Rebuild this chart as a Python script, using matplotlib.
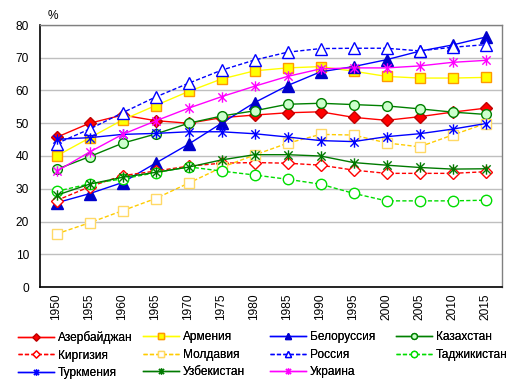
import matplotlib
matplotlib.use("Agg")
import matplotlib.pyplot as plt
from matplotlib.path import Path
from matplotlib.lines import Line2D

plt.rcParams['font.family'] = ['Liberation Sans', 'DejaVu Sans']

years = ['1950', '1955', '1960', '1965', '1970', '1975', '1980',
         '1985', '1990', '1995', '2000', '2005', '2010', '2015']

azerbaijan = [45.7, 50.0, 52.5, 50.8, 50.0, 51.7, 52.5, 53.2, 53.5, 51.8, 50.9, 52.0, 53.4, 54.6]
armenia    = [40.0, 45.5, 51.0, 55.4, 59.7, 63.5, 66.0, 66.9, 67.3, 65.9, 64.3, 63.8, 63.8, 64.0]
belarus    = [25.7, 28.5, 31.9, 37.8, 43.6, 50.0, 56.3, 61.5, 65.7, 67.3, 69.4, 72.0, 73.9, 76.3]
kazakhstan = [35.9, 39.8, 43.9, 46.7, 50.0, 52.2, 53.8, 55.8, 56.1, 55.7, 55.3, 54.4, 53.4, 52.7]
kirgizia   = [26.4, 30.6, 34.0, 35.4, 36.9, 37.8, 38.0, 37.8, 37.2, 35.7, 34.7, 34.7, 34.7, 35.2]
moldova    = [16.2, 19.6, 23.3, 27.0, 31.7, 36.5, 40.3, 43.9, 46.6, 46.4, 44.0, 42.8, 46.4, 49.9]
russia     = [43.8, 48.2, 53.2, 58.0, 62.2, 66.2, 69.3, 71.7, 72.8, 72.9, 72.9, 72.1, 73.2, 74.0]
tajikistan = [29.2, 31.5, 33.0, 34.9, 36.7, 35.4, 34.2, 32.9, 31.4, 28.6, 26.3, 26.3, 26.3, 26.5]
turkmenia  = [45.1, 45.6, 46.6, 46.9, 47.4, 47.4, 46.8, 45.8, 44.7, 44.4, 45.9, 46.8, 48.2, 49.9]
uzbekistan = [28.0, 31.4, 33.5, 35.0, 36.6, 38.8, 40.4, 40.4, 40.0, 38.0, 37.2, 36.5, 36.0, 36.1]
ukraine    = [35.3, 41.2, 46.6, 50.7, 54.6, 58.1, 61.3, 64.3, 66.6, 66.9, 66.9, 67.5, 68.6, 69.2]

yticks = [0, 10, 20, 30, 40, 50, 60, 70, 80]

star = Path([(0, -1), (0, 1), (-0.8, -0.8), (0.8, 0.8), (-0.8, 0.8), (0.8, -0.8)],
            [Path.MOVETO, Path.LINETO, Path.MOVETO, Path.LINETO, Path.MOVETO, Path.LINETO])

dash = (0, (3, 1.6))
series = [
    ('Азербайджан', azerbaijan, dict(color='#FF0000', ls='-', marker='D', ms=6, mfc='#FF0000', mec='#C00000')),
    ('Армения', armenia, dict(color='#FFFF00', ls='-', marker='s', ms=7.5, mfc='#FFFF00', mec='#FF9900')),
    ('Белоруссия', belarus, dict(color='#0000FF', ls='-', marker='^', ms=8, mfc='#0000CC', mec='#0000CC')),
    ('Казахстан', kazakhstan, dict(color='#008000', ls='-', marker='o', ms=7, mfc='#CCFFCC', mec='#008000')),
    ('Киргизия', kirgizia, dict(color='#FF0000', ls=dash, marker='D', ms=6, mfc='white', mec='#FF0000')),
    ('Молдавия', moldova, dict(color='#FFCC00', ls=dash, marker='s', ms=7, mfc='white', mec='#FFD966')),
    ('Россия', russia, dict(color='#0000FF', ls=dash, marker='^', ms=8, mfc='white', mec='#0000FF')),
    ('Таджикистан', tajikistan, dict(color='#00DD00', ls=dash, marker='o', ms=7.5, mfc='white', mec='#00DD00')),
    ('Туркмения', turkmenia, dict(color='#0000FF', ls='-', marker=star, ms=7.5, mfc='none', mec='#0000FF')),
    ('Узбекистан', uzbekistan, dict(color='#007A00', ls='-', marker=star, ms=7.5, mfc='none', mec='#007A00')),
    ('Украина', ukraine, dict(color='#FF00FF', ls='-', marker=star, ms=7.5, mfc='none', mec='#FF00FF')),
]

W, H = 518, 388
fig = plt.figure(figsize=(W / 100, H / 100), dpi=100)
ax = fig.add_axes([40 / W, 1 - 287 / H, 462 / W, 262 / H])

x = list(range(len(years)))
handles = {}
for name, vals, st in series:
    ln, = ax.plot(x, vals, lw=1.0, mew=1.0, label=name, **st)
    handles[name] = ln

ax.set_xlim(-0.5, len(years) - 0.5)
ax.set_ylim(0, 80)
ax.set_yticks(yticks)
ax.set_yticklabels([str(v) for v in yticks])
ax.set_xticks(x)
ax.set_xticklabels(years, rotation=90)
ax.tick_params(axis='both', length=0, labelsize=8.6)
ax.tick_params(axis='y', pad=8)
ax.tick_params(axis='x', pad=5)
ax.yaxis.grid(True, color='#BFBFBF', lw=1.0)
ax.set_axisbelow(True)
for s in ['left', 'bottom']:
    ax.spines[s].set_color('black')
    ax.spines[s].set_linewidth(1.2)
for s in ['top', 'right']:
    ax.spines[s].set_color('#808080')
    ax.spines[s].set_linewidth(1.0)

fig.text(53 / W, 1 - 16 / H, '%', fontsize=8.6, ha='center', va='center')

columns = [
    ['Азербайджан', 'Киргизия', 'Туркмения'],
    ['Армения', 'Молдавия', 'Узбекистан'],
    ['Белоруссия', 'Россия', 'Украина'],
    ['Казахстан', 'Таджикистан'],
]
col_x = [18, 143, 270, 396]
for cx, names in zip(col_x, columns):
    leg = fig.legend([handles[n] for n in names], names,
                     loc='upper left', bbox_to_anchor=(cx / W, 1 - 331 / H),
                     frameon=False, fontsize=8.6, handlelength=3.0,
                     handletextpad=0.35, borderpad=0, borderaxespad=0,
                     labelspacing=0.48, markerscale=0.6)
    fig.add_artist(leg)

fig.savefig('out.png', dpi=100)
